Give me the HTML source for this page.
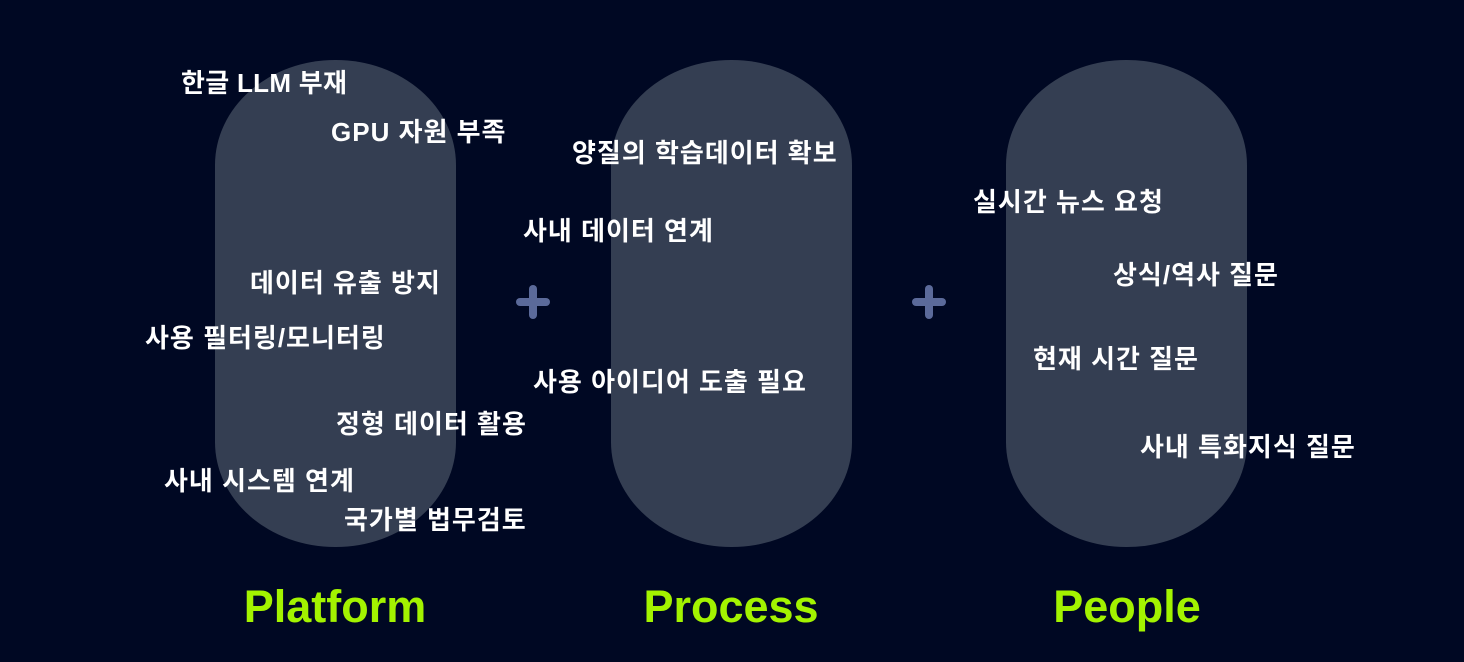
<!DOCTYPE html>
<html><head><meta charset="utf-8"><style>
html,body{margin:0;padding:0}
body{width:1464px;height:662px;background:#000823;position:relative;overflow:hidden;font-family:"Liberation Sans","Noto Sans CJK KR",sans-serif}
.pill{position:absolute;top:60px;width:241px;height:487px;background:#343e52;border-radius:120px/105px}
.t{position:absolute;color:#fff;font-weight:bold;font-size:26px;line-height:30px;white-space:nowrap;letter-spacing:1px}
.t.l{letter-spacing:0.3px}
.lab{position:absolute;top:581px;width:300px;text-align:center;color:#a3f300;font-weight:bold;font-size:45px;line-height:52px}
.plus{position:absolute;width:34px;height:34px}
.plus:before,.plus:after{content:"";position:absolute;background:#5b6a9a;border-radius:4px}
.plus:before{left:0;top:13px;width:34px;height:8px}
.plus:after{left:13px;top:0;width:8px;height:34px}
</style></head><body>
<div class="pill" style="left:215px"></div>
<div class="pill" style="left:611px"></div>
<div class="pill" style="left:1006px"></div>
<div class="plus" style="left:516px;top:285px"></div>
<div class="plus" style="left:912px;top:285px"></div>

<div class="t l" style="left:181px;top:68px">한글 LLM 부재</div>
<div class="t" style="left:331px;top:117px">GPU 자원 부족</div>
<div class="t" style="left:250px;top:268px">데이터 유출 방지</div>
<div class="t" style="left:145px;top:323px">사용 필터링/모니터링</div>
<div class="t" style="left:336px;top:409px">정형 데이터 활용</div>
<div class="t" style="left:164px;top:466px">사내 시스템 연계</div>
<div class="t" style="left:344px;top:505px">국가별 법무검토</div>

<div class="t" style="left:572px;top:138px">양질의 학습데이터 확보</div>
<div class="t" style="left:523px;top:216px">사내 데이터 연계</div>
<div class="t" style="left:533px;top:367px">사용 아이디어 도출 필요</div>

<div class="t" style="left:973px;top:187px">실시간 뉴스 요청</div>
<div class="t" style="left:1113px;top:260px">상식/역사 질문</div>
<div class="t" style="left:1033px;top:344px">현재 시간 질문</div>
<div class="t" style="left:1140px;top:432px">사내 특화지식 질문</div>

<div class="lab" style="left:185px">Platform</div>
<div class="lab" style="left:581px">Process</div>
<div class="lab" style="left:977px">People</div>
</body></html>
